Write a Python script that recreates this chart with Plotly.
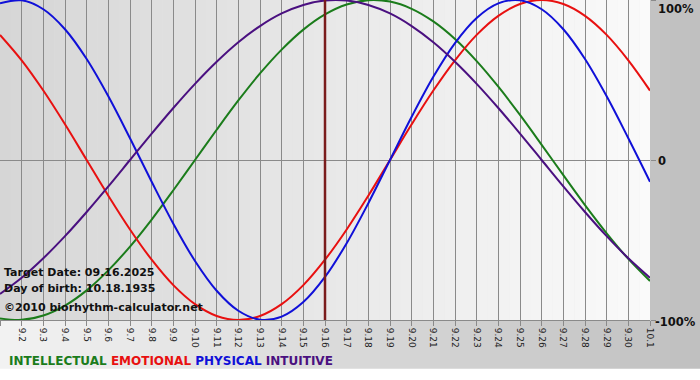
import plotly.graph_objects as go

days = list(range(31))
day_labels = ["9.%d" % d for d in range(1, 31)] + ["10.1"]

intellectual = [-0.990, -0.999, -0.972, -0.910, -0.815, -0.690, -0.541, -0.372, -0.189, 0.000,
                0.189, 0.372, 0.541, 0.690, 0.815, 0.910, 0.972, 0.999, 0.990, 0.945,
                0.866, 0.756, 0.618, 0.458, 0.282, 0.095, -0.095, -0.282, -0.458, -0.618, -0.756]
emotional = [0.782, 0.623, 0.434, 0.223, 0.000, -0.223, -0.434, -0.623, -0.782, -0.901,
             -0.975, -1.000, -0.975, -0.901, -0.782, -0.623, -0.434, -0.223, 0.000, 0.223,
             0.434, 0.623, 0.782, 0.901, 0.975, 1.000, 0.975, 0.901, 0.782, 0.623, 0.434]
physical = [0.979, 0.998, 0.942, 0.817, 0.631, 0.398, 0.136, -0.136, -0.398, -0.631,
            -0.817, -0.942, -0.998, -0.979, -0.888, -0.731, -0.520, -0.270, 0.000, 0.270,
            0.520, 0.731, 0.888, 0.979, 0.998, 0.942, 0.817, 0.631, 0.398, 0.136, -0.136]
intuitive = [-0.837, -0.736, -0.614, -0.476, -0.325, -0.165, 0.000, 0.165, 0.325, 0.476,
             0.614, 0.736, 0.837, 0.916, 0.969, 0.997, 0.997, 0.969, 0.916, 0.837,
             0.736, 0.614, 0.476, 0.325, 0.165, 0.000, -0.165, -0.325, -0.476, -0.614, -0.736]

series_names = ["INTELLECTUAL", "EMOTIONAL", "PHYSICAL", "INTUITIVE"]
series_colors = ["#1b7c1b", "#e81010", "#1010d8", "#4a1080"]
y_ticks = [1, 0, -1]
y_labels = ["100%", "0", "-100%"]
target_day = 15
info_lines = ["Target Date: 09.16.2025", "Day of birth: 10.18.1935", "\u00a92010 biorhythm-calculator.net"]

fig = go.Figure()
for name, vals, col in zip(series_names, [intellectual, emotional, physical, intuitive], series_colors):
    fig.add_trace(go.Scatter(x=days, y=vals, mode="lines", name=name,
                             line=dict(color=col, width=2, shape="spline"),
                             showlegend=False, hoverinfo="skip"))

shapes = []
# paper background gradient (light left to gray right)
N = 70
for i in range(N):
    t = i / (N - 1)
    g = int(round(0xf2 + (0xc0 - 0xf2) * t))
    shapes.append(dict(type="rect", xref="paper", yref="paper",
                       x0=i / N * 700 / 650, x1=(i + 1) / N * 700 / 650 + 0.002,
                       y0=-0.19, y1=1.01, fillcolor="rgb(%d,%d,%d)" % (g, g, g),
                       line_width=0, layer="below"))
shapes.append(dict(type="rect", xref="paper", yref="paper", x0=0, x1=1.08,
                   y0=-0.19, y1=-0.152, fillcolor="white", line_width=0, layer="below"))
# plot area gradient
M = 60
for i in range(M):
    t = i / (M - 1)
    g = int(round(0xd6 + (0xfa - 0xd6) * t))
    shapes.append(dict(type="rect", xref="x", yref="y",
                       x0=days[-1] * i / M, x1=days[-1] * (i + 1) / M + 0.02,
                       y0=-1, y1=1, fillcolor="rgb(%d,%d,%d)" % (g, g, g),
                       line_width=0, layer="below"))
# target day line
shapes.append(dict(type="line", xref="x", yref="paper", x0=target_day, x1=target_day,
                   y0=0, y1=1, line=dict(color="#7a1c1c", width=2.5), layer="above"))

annotations = []
ys = [272, 288, 307]
for txt, yy in zip(info_lines, ys):
    annotations.append(dict(text="<b>%s</b>" % txt, xref="paper", yref="paper",
                            x=2 / 650, y=(320 - yy) / 320, xanchor="left", yanchor="middle",
                            showarrow=False, font=dict(family="DejaVu Sans", size=11, color="#111")))
legend_html = " ".join('<span style="color:%s">%s</span>' % (c, n)
                       for n, c in zip(series_names, series_colors))
annotations.append(dict(text="<b>%s</b>" % legend_html, xref="paper", yref="paper",
                        x=7 / 650, y=(320 - 361) / 320, xanchor="left", yanchor="middle",
                        showarrow=False, font=dict(family="DejaVu Sans", size=12)))
# right-side percentage labels
anchors = {1: ("top", 0), 0: ("middle", -1), -1: ("middle", -2)}
for v, lab in zip(y_ticks, y_labels):
    ya, ysh = anchors[v]
    annotations.append(dict(text="<b>%s</b>" % lab, xref="paper", yref="y", x=1, y=v,
                            xanchor="left", yanchor=ya, xshift=6 if v != -1 else 3, yshift=ysh,
                            showarrow=False, font=dict(family="DejaVu Sans", size=11.5, color="#111")))

fig.update_layout(
    width=700, height=380,
    margin=dict(l=0, r=50, t=0, b=60, autoexpand=False),
    paper_bgcolor="#c8c8c8", plot_bgcolor="#e8e8e8",
    shapes=shapes, annotations=annotations,
    xaxis=dict(range=[0, 30], tickvals=days, ticktext=day_labels, tickangle=90,
               automargin=False,
               showgrid=True, gridcolor="#8a8a8a", gridwidth=1,
               ticks="outside", ticklen=5, tickcolor="#8a8a8a",
               showline=True, linecolor="#8a8a8a", linewidth=1,
               zeroline=False, tickfont=dict(family="DejaVu Sans", size=9, color="#222")),
    yaxis=dict(range=[-1, 1], side="right", tickvals=y_ticks, showticklabels=False,
               automargin=False,
               showgrid=False, zeroline=True, zerolinecolor="#8a8a8a", zerolinewidth=1,
               ticks="outside", ticklen=5, tickcolor="#8a8a8a"),
)
fig.write_html("out.html", config={"displayModeBar": False},
               post_script="document.body.style.margin='0';document.body.style.overflow='hidden';")
